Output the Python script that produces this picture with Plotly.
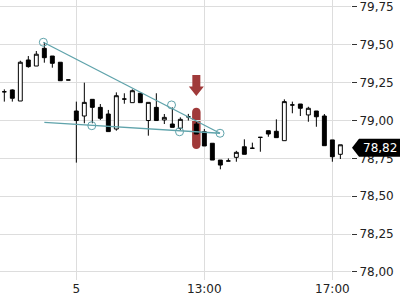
import plotly.graph_objects as go

# ---- data (15-minute candles, index 0..42) ----
candle_idx = list(range(43))
open_ = [79.190, 79.202, 79.129, 79.400, 79.360, 79.477, 79.426, 79.385, 79.268,
         79.063, 79.030, 79.140, 79.087, 79.043, 78.944, 79.142, 79.118, 79.180,
         79.000, 79.087, 79.004, 78.977, 78.949, 79.025, 78.977, 78.926, 78.850,
         78.739, 78.733, 78.757, 78.827, 78.817, 78.889, 78.933, 78.929, 78.867,
         79.103, 79.109, 79.037, 79.063, 79.030, 78.872, 78.777]
high_ = [79.206, 79.206, 79.395, 79.426, 79.459, 79.517, 79.426, 79.385, 79.268,
         79.125, 79.250, 79.140, 79.109, 79.070, 79.186, 79.180, 79.206, 79.180,
         79.120, 79.180, 79.043, 79.087, 79.021, 79.044, 78.990, 78.944, 78.850,
         78.739, 78.750, 78.800, 78.876, 78.854, 78.889, 78.933, 79.008, 79.140,
         79.125, 79.109, 79.091, 79.063, 79.043, 78.872, 78.840]
low_ = [79.125, 79.125, 79.129, 79.349, 79.360, 79.382, 79.349, 79.263, 79.268,
        78.722, 78.982, 78.982, 79.004, 78.927, 78.933, 79.111, 79.118, 79.118,
        78.900, 79.000, 78.977, 78.955, 78.938, 79.000, 78.911, 78.832, 78.739,
        78.678, 78.733, 78.728, 78.777, 78.817, 78.794, 78.893, 78.887, 78.867,
        79.048, 79.030, 78.992, 78.959, 78.834, 78.728, 78.746]
close_ = [79.190, 79.147, 79.385, 79.356, 79.438, 79.415, 79.378, 79.263, 79.268,
          79.000, 79.120, 79.087, 79.015, 78.927, 79.164, 79.142, 79.197, 79.118,
          79.120, 79.000, 79.021, 78.955, 79.008, 79.025, 78.911, 78.832, 78.739,
          78.706, 78.733, 78.790, 78.777, 78.817, 78.889, 78.911, 78.887, 79.125,
          79.103, 79.081, 79.081, 79.025, 78.834, 78.761, 78.840]
last_price = 78.82

x_tickvals = [9, 25, 41]
x_ticktext = ["5", "13:00", "17:00"]
y_tickvals = [78.00, 78.25, 78.50, 78.75, 79.00, 79.25, 79.50, 79.75]

# trendlines (candle index, price)
upper_line_x = [4.875, 26.96]
upper_line_y = [79.517, 78.916]
lower_line_x = [5.0, 26.96]
lower_line_y = [78.988, 78.916]
anchor_x = [4.875, 20.9, 26.96, 10.93, 21.9]
anchor_y = [79.517, 79.103, 78.916, 78.966, 78.926]

# highlight marker around candle 24
hl_idx = 24
hl_low, hl_high = 78.812, 79.085
arrow_top, arrow_mid, arrow_tip = 79.301, 79.224, 79.162

# ---- layout constants ----
W, H = 400, 300
M_L, M_R, M_T, M_B = 0, 49, 0, 4
x_range = [-0.54, 43.33]
y_range = [77.947, 79.796]
plot_h = H - M_T - M_B
d0 = 16 / plot_h  # y-axis domain start (leaves room for x labels)

TEAL = "#5fa3ab"
RED = "#a03a3a"

fig = go.Figure()
fig.add_trace(go.Candlestick(
    x=candle_idx, open=open_, high=high_, low=low_, close=close_,
    increasing=dict(line=dict(color="black", width=1), fillcolor="white"),
    decreasing=dict(line=dict(color="black", width=1), fillcolor="black"),
    whiskerwidth=0, hoverinfo="skip", showlegend=False,
))
fig.add_trace(go.Scatter(x=upper_line_x, y=upper_line_y, mode="lines",
                         line=dict(color=TEAL, width=1.3), hoverinfo="skip", showlegend=False))
fig.add_trace(go.Scatter(x=lower_line_x, y=lower_line_y, mode="lines",
                         line=dict(color=TEAL, width=1.3), hoverinfo="skip", showlegend=False))
fig.add_trace(go.Scatter(x=anchor_x, y=anchor_y, mode="markers",
                         marker=dict(symbol="circle-open", size=8, color=TEAL, line=dict(width=1)),
                         hoverinfo="skip", showlegend=False))

# capsule highlight (data coords)
hw = 0.53
r = 4.25 / (plot_h * (1 - d0)) * (y_range[1] - y_range[0])
x0, x1 = hl_idx - hw, hl_idx + hw
k = 4 / 3 * r
cap = (f"M {x0},{hl_low + r} L {x0},{hl_high - r} "
       f"C {x0},{hl_high - r + k} {x1},{hl_high - r + k} {x1},{hl_high - r} "
       f"L {x1},{hl_low + r} "
       f"C {x1},{hl_low + r - k} {x0},{hl_low + r - k} {x0},{hl_low + r} Z")
shapes = [dict(type="path", path=cap, xref="x", yref="y", fillcolor=RED,
               line=dict(width=0), layer="below")]
# down arrow
sw, hw2 = 0.5, 0.94
arr = (f"M {hl_idx - sw},{arrow_top} L {hl_idx + sw},{arrow_top} L {hl_idx + sw},{arrow_mid} "
       f"L {hl_idx + hw2},{arrow_mid} L {hl_idx},{arrow_tip} L {hl_idx - hw2},{arrow_mid} "
       f"L {hl_idx - sw},{arrow_mid} Z")
shapes.append(dict(type="path", path=arr, xref="x", yref="y", fillcolor=RED,
                   line=dict(width=0), layer="above"))

# last price label (paper coords)
plot_w = W - M_L - M_R


def py(p):
    return d0 + (p - y_range[0]) / (y_range[1] - y_range[0]) * (1 - d0)


def px(xpix):
    return (xpix - M_L) / plot_w


yc = py(last_price)
hh = 9 / plot_h
lab = (f"M {px(352)},{yc} L {px(359)},{yc + hh} L {px(400)},{yc + hh} "
       f"L {px(400)},{yc - hh} L {px(359)},{yc - hh} Z")
shapes.append(dict(type="path", path=lab, xref="paper", yref="paper", fillcolor="black",
                   line=dict(width=0), layer="above"))

fig.update_layout(
    width=W, height=H,
    margin=dict(l=M_L, r=M_R, t=M_T, b=M_B),
    paper_bgcolor="white", plot_bgcolor="white",
    separators=",.",
    font=dict(family="DejaVu Sans", size=12, color="#222"),
    shapes=shapes,
    annotations=[dict(x=px(380), y=yc, xref="paper", yref="paper",
                      text=f"{last_price:.2f}".replace(".", ","), showarrow=False,
                      font=dict(color="white", size=12, family="DejaVu Sans"),
                      xanchor="center", yanchor="middle")],
    xaxis=dict(range=x_range, tickvals=x_tickvals, ticktext=x_ticktext,
               showgrid=True, gridcolor="#dddddd", gridwidth=1, zeroline=False,
               ticks="", showline=False, rangeslider=dict(visible=False),
               anchor="y", fixedrange=True),
    xaxis2=dict(range=x_range, tickvals=x_tickvals, overlaying="x", anchor="free",
                position=0, ticks="inside", ticklen=5, tickcolor="#333",
                showticklabels=False, showgrid=False, zeroline=False, showline=False),
    yaxis=dict(range=y_range, domain=[d0, 1], side="right", tickvals=y_tickvals,
               tickformat=".2f", showgrid=True, gridcolor="#dddddd", gridwidth=1,
               zeroline=False, ticks="outside", ticklen=5, tickcolor="#333",
               showline=False, fixedrange=True),
    hovermode=False,
)

fig.write_html("out.html")
